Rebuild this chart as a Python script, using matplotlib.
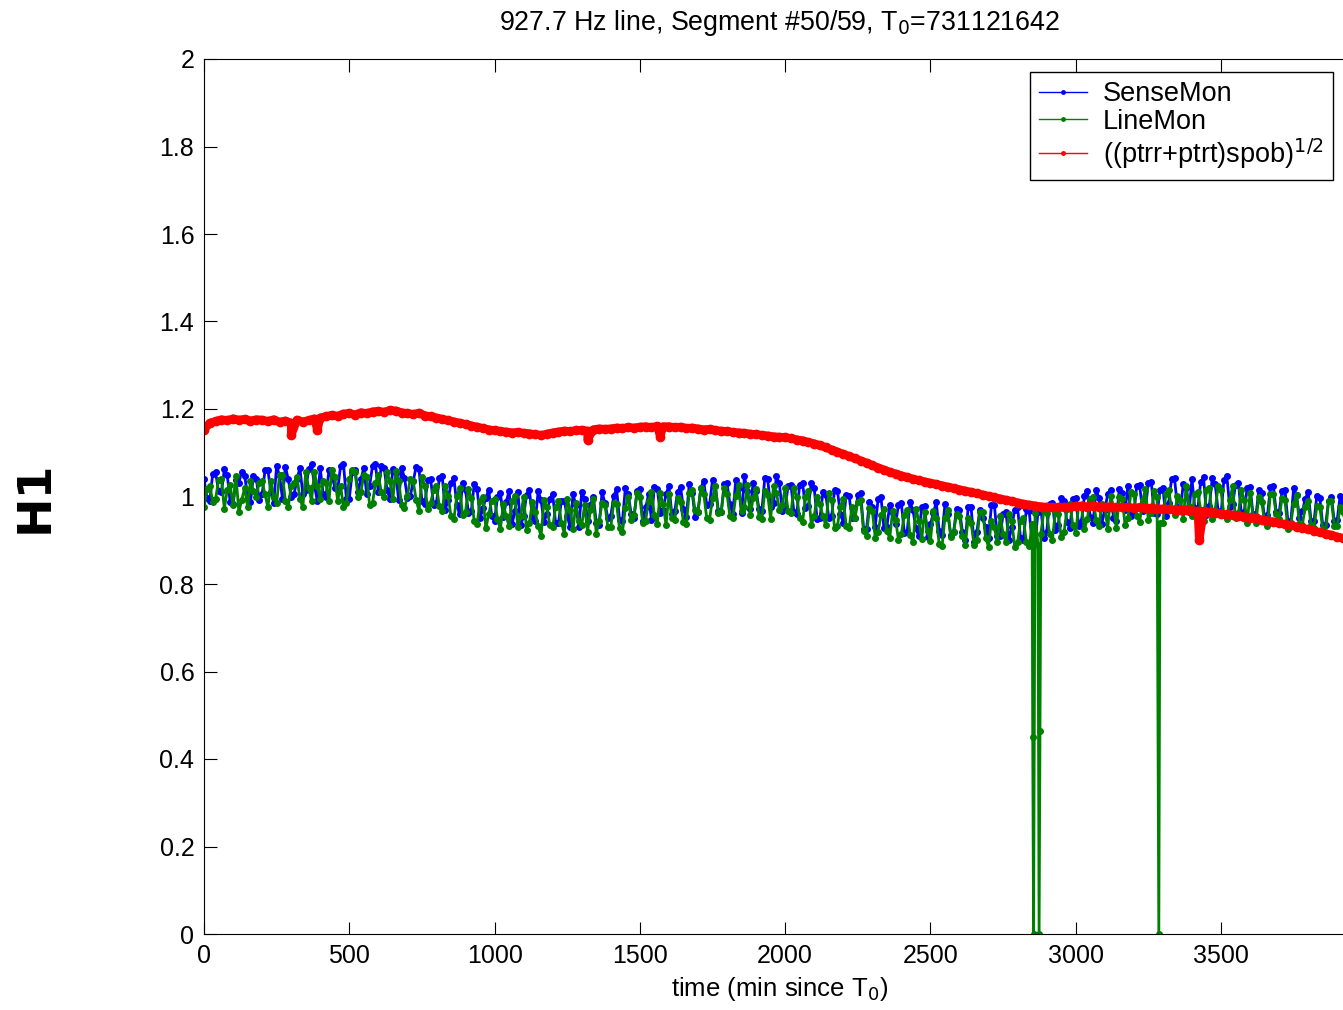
import numpy as np
import matplotlib
matplotlib.use('Agg')
import matplotlib.pyplot as plt
from matplotlib.ticker import FuncFormatter

plt.rcParams['font.family'] = ['Liberation Sans', 'DejaVu Sans']

step = 20   # min between samples (second set sits halfway)

# SenseMon (blue), at t = 0, 20, 40, ...
sense = [1.04, 0.99, 1.055, 1.01, 1.05, 0.982, 1.032, 1.047, 0.988, 1.04,
         1.005, 1.06, 0.986, 1.047, 1.068, 0.999, 1.04, 1.006, 1.062, 1.025,
         1.065, 1.0, 1.05, 1.015, 1.075, 0.995, 1.06, 1.04, 1.005, 1.07,
         1.01, 1.065, 0.995, 1.053, 1.065, 0.997, 1.035, 1.062, 0.984, 1.04,
         0.985, 1.046, 0.992, 1.043, 0.959, 1.015, 0.966, 1.017, 0.973, 1.015,
         0.945, 1.009, 0.988, 0.937, 1.011, 0.955, 1.014, 0.943, 0.992, 0.961,
         1.005, 0.94, 0.99, 0.93, 0.98, 1.01, 0.945, 1.0, 0.935, 0.985,
         0.955, 1.017, 0.943, 1.005, 0.952, 1.018, 0.975, 0.946, 1.018, 0.969,
         1.025, 0.966, 1.022, 0.953, 1.009, 0.965, 1.036, 0.982, 1.023, 0.964,
         1.03, 0.96, 1.02, 1.046, 0.971, 1.012, 0.968, 1.039, 0.985, 1.03,
         0.975, 1.027, 0.959, 1.031, 0.978, 1.02, 0.952, 1.004, 0.956, 1.013,
         0.94, 1.002, 0.95, 1.007, 0.925, 0.977, 0.995, 0.927, 0.98, 0.937,
         0.985, 0.92, 0.969, 0.909, 0.978, 0.937, 0.987, 0.911, 0.96, 0.92,
         0.97, 0.9, 0.975, 0.92, 0.95, 0.905, 0.98, 0.91, 0.965, 0.93,
         0.975, 0.9, 0.966, 0.893, 0.975, 0.918, 0.986, 0.935, 0.989, 0.928,
         0.997, 0.945, 1.013, 0.94, 0.997, 0.969, 1.016, 0.943, 1.009, 1.025,
         0.96, 1.026, 0.972, 1.033, 0.959, 1.02, 0.986, 1.042, 0.968, 1.019,
         1.04, 0.97, 1.044, 0.979, 1.028, 0.958, 1.047, 0.982, 1.031, 0.965,
         1.022, 0.955, 1.008, 0.957, 1.025, 0.963, 1.016, 0.94, 1.003, 0.966,
         1.01, 0.943, 0.997, 0.935, 0.999, 0.947, 0.985]
# SenseMon, at t = 10, 30, 50, ...
sense_mid = [0.997, 1.052, 1.012, 1.062, 0.987, 1.037, 1.057, 1.002, 1.047, 0.992,
             1.06, 1.01, 1.07, 0.995, 1.04, 1.005, 1.065, 1.015, 1.075, 0.99,
             1.005, 1.06, 1.02, 1.07, 0.995, 1.055, 1.01, 1.065, 1.025, 1.075,
             1.07, 1.015, 1.064, 0.991, 1.043, 1.001, 1.068, 0.99, 1.037, 0.98,
             1.043, 0.969, 1.03, 0.981, 1.032, 0.963, 1.029, 0.95, 0.997, 0.955,
             0.999, 0.953, 1.012, 0.966, 0.935, 1.004, 0.953, 1.012, 0.941, 0.995,
             0.94, 0.99, 0.955, 1.005, 0.93, 0.995, 0.98, 0.94, 1.01, 0.95,
             1.001, 0.947, 1.019, 0.961, 1.012, 0.944, 1.005, 1.022, 0.963, 1.005,
             0.96, 1.011, 0.972, 1.028, 0.954, 1.02, 0.981, 1.037, 0.968, 1.029,
             0.982, 1.037, 0.962, 1.012, 1.032, 0.972, 1.042, 0.977, 1.047, 0.967,
             1.023, 0.965, 1.027, 0.974, 1.031, 0.948, 1.01, 0.952, 1.014, 0.961,
             1.003, 0.951, 1.003, 0.926, 0.988, 0.931, 0.998, 0.931, 0.963, 0.981,
             0.917, 0.987, 0.927, 0.977, 0.907, 0.962, 0.922, 0.982, 0.912, 0.972,
             0.92, 0.975, 0.895, 0.97, 0.93, 0.98, 0.91, 0.96, 0.9, 0.97,
             0.905, 0.971, 0.892, 0.964, 0.906, 0.984, 0.923, 0.997, 0.941, 0.995,
             0.933, 1.001, 0.954, 1.016, 0.938, 1.005, 0.952, 1.018, 0.969, 0.955,
             1.025, 0.966, 1.032, 0.963, 1.014, 0.955, 1.041, 0.977, 1.028, 0.964,
             0.973, 1.033, 0.958, 1.043, 0.968, 1.038, 0.977, 1.027, 0.961, 1.02,
             0.961, 1.014, 0.947, 1.021, 0.964, 1.012, 0.945, 1.019, 0.952, 0.995,
             0.944, 1.002, 0.936, 0.989, 0.943, 1.001, 0.945]

# LineMon (green), at t = 0, 20, 40, ...
linemon = [0.975, 1.025, 0.995, 1.04, 1.015, 0.98, 0.965, 1.02, 1.035, 1.0,
           1.035, 0.975, 1.0, 1.05, 0.99, 1.025, 1.045, 0.975, 1.02, 1.055,
           0.995, 1.03, 1.06, 0.99, 0.975, 1.04, 1.055, 1.01, 1.045, 0.985,
           1.05, 1.0, 1.035, 1.058, 0.98, 1.002, 1.035, 0.967, 1.024, 0.985,
           1.025, 0.966, 1.002, 0.948, 1.019, 0.965, 0.996, 0.937, 0.998, 0.96,
           0.995, 0.925, 0.955, 0.99, 0.93, 1.0, 0.94, 0.965, 0.91, 0.975,
           0.93, 0.99, 0.915, 0.97, 0.985, 0.935, 0.92, 0.995, 0.945, 0.98,
           0.93, 0.982, 0.918, 1.0, 0.957, 0.998, 0.945, 1.011, 0.938, 0.984,
           1.005, 0.946, 0.987, 0.938, 1.014, 0.965, 1.006, 0.947, 1.023, 0.964,
           1.005, 0.95, 1.026, 0.976, 0.957, 1.017, 0.948, 1.004, 1.024, 0.97,
           1.02, 0.962, 0.999, 0.941, 1.013, 0.955, 0.982, 0.934, 0.991, 0.933,
           0.995, 0.927, 0.95, 0.992, 0.91, 0.967, 0.92, 0.972, 0.905, 0.947,
           0.915, 0.97, 0.895, 0.945, 0.965, 0.898, 0.952, 0.886, 0.97, 0.92,
           0.955, 0.89, 0.94, 0.9, 0.965, 0.885, 0.93, 0.955, 0.895, 0.945,
           0.895, 0.95, 0.886, 0.963, 0.915, 0.963, 0.901, 0.96, 0.919, 0.983,
           0.917, 0.975, 0.948, 1.0, 0.932, 0.979, 1.001, 0.928, 0.994, 0.95,
           1.005, 0.941, 1.017, 0.963, 0.999, 0.94, 1.016, 0.957, 0.993, 1.024,
           0.955, 1.01, 0.945, 1.02, 0.97, 1.014, 0.949, 1.023, 0.962, 0.991,
           1.007, 0.94, 0.988, 0.932, 1.005, 0.948, 0.991, 0.935, 1.003, 0.936,
           0.99, 0.928, 0.977, 0.915, 0.989, 0.932, 0.965]
# LineMon, at t = 10, 30, 50, ...
linemon_mid = [1.017, 0.987, 1.037, 0.972, 1.027, 1.047, 0.992, 0.977, 1.012, 1.032,
               1.005, 1.035, 0.985, 1.05, 0.975, 1.03, 0.995, 1.055, 0.99, 1.025,
               1.035, 0.99, 1.045, 1.025, 0.985, 1.06, 1.0, 1.05, 0.98, 1.03,
               1.01, 1.055, 0.994, 1.036, 0.973, 1.041, 0.993, 1.045, 0.972, 1.015,
               0.978, 1.024, 0.955, 1.001, 0.957, 1.018, 0.944, 0.99, 0.927, 0.99,
               0.949, 0.983, 0.932, 1.001, 0.955, 0.924, 0.988, 0.932, 0.991, 0.935,
               0.975, 0.94, 0.995, 0.925, 0.945, 0.98, 0.97, 0.915, 0.985, 0.93,
               0.986, 0.927, 0.974, 0.946, 1.007, 0.939, 0.99, 0.957, 1.008, 0.935,
               0.95, 0.996, 0.942, 1.008, 0.969, 1.02, 0.951, 0.997, 0.963, 1.019,
               0.955, 1.001, 0.966, 1.027, 0.997, 0.953, 1.013, 0.949, 1.009, 0.98,
               0.968, 1.02, 0.952, 0.999, 0.936, 0.998, 0.955, 1.007, 0.929, 0.976,
               0.933, 0.976, 0.988, 0.921, 0.973, 0.906, 0.958, 0.921, 0.968, 0.901,
               0.957, 0.912, 0.972, 0.902, 0.922, 0.967, 0.892, 0.952, 0.907, 0.96,
               0.91, 0.95, 0.89, 0.965, 0.905, 0.945, 0.895, 0.915, 0.96, 0.885,
               0.945, 0.896, 0.937, 0.889, 0.966, 0.914, 0.968, 0.907, 0.971, 0.935,
               0.978, 0.926, 0.994, 0.946, 0.983, 0.925, 0.977, 0.998, 0.934, 1.01,
               0.955, 0.991, 0.947, 1.013, 0.939, 1.005, 0.971, 1.002, 0.948, 0.979,
               1.005, 0.97, 1.014, 0.949, 1.023, 0.958, 0.992, 0.951, 1.016, 0.94,
               0.956, 0.999, 0.942, 1.006, 0.959, 0.997, 0.926, 0.984, 0.937, 0.975,
               0.934, 0.978, 0.926, 0.99, 0.933, 0.976, 0.935]
# LineMon dropouts (time, value)
drop_t = [2852, 2855, 2874, 2877, 3286]
drop_v = [0.45, 0.0, 0.0, 0.465, 0.0]

# ((ptrr+ptrt)spob)^1/2 (red), at t = 0, 20, 40, ...
ptr = [1.153, 1.168, 1.172, 1.176, 1.174, 1.178, 1.175, 1.177, 1.173, 1.176,
       1.175, 1.172, 1.176, 1.17, 1.173, 1.168, 1.175, 1.171, 1.174, 1.178,
       1.18, 1.183, 1.186, 1.184, 1.189, 1.19, 1.187, 1.192, 1.19, 1.194,
       1.195, 1.193, 1.197, 1.196, 1.192, 1.19, 1.188, 1.191, 1.185, 1.183,
       1.18, 1.177, 1.174, 1.171, 1.168, 1.165, 1.162, 1.159, 1.156, 1.153,
       1.151, 1.149, 1.148, 1.146, 1.147, 1.145, 1.144, 1.142, 1.14, 1.143,
       1.146, 1.148, 1.15, 1.149, 1.151, 1.152, 1.15, 1.153, 1.155, 1.154,
       1.155, 1.157, 1.156, 1.158, 1.157, 1.159, 1.16, 1.158, 1.161, 1.16,
       1.16, 1.158, 1.159, 1.156, 1.157, 1.155, 1.153, 1.154, 1.151, 1.15,
       1.149, 1.147, 1.146, 1.145, 1.143, 1.142, 1.14, 1.139, 1.137, 1.136,
       1.135, 1.133, 1.13, 1.128, 1.124, 1.121, 1.117, 1.112, 1.107, 1.102,
       1.097, 1.092, 1.087, 1.082, 1.077, 1.071, 1.066, 1.061, 1.056, 1.052,
       1.048, 1.044, 1.04, 1.037, 1.034, 1.031, 1.028, 1.025, 1.022, 1.019,
       1.016, 1.013, 1.01, 1.007, 1.004, 1.001, 0.998, 0.995, 0.992, 0.989,
       0.986, 0.983, 0.981, 0.979, 0.977, 0.976, 0.975, 0.975, 0.976, 0.975,
       0.978, 0.979, 0.977, 0.978, 0.977, 0.976, 0.977, 0.975, 0.976, 0.975,
       0.974, 0.975, 0.973, 0.974, 0.972, 0.972, 0.971, 0.97, 0.97, 0.969,
       0.968, 0.967, 0.966, 0.964, 0.963, 0.961, 0.959, 0.958, 0.956, 0.954,
       0.952, 0.95, 0.947, 0.945, 0.942, 0.939, 0.937, 0.934, 0.931, 0.928,
       0.925, 0.922, 0.918, 0.915, 0.912, 0.908, 0.905]
# red outliers (time, value)
ptr_out_t = [300, 390, 1320, 1570, 3425]
ptr_out_v = [1.14, 1.152, 1.13, 1.137, 0.90]


def merge(*pairs):
    tt = np.concatenate([np.asarray(p[0], float) for p in pairs])
    vv = np.concatenate([np.asarray(p[1], float) for p in pairs])
    i = np.argsort(tt, kind='stable')
    return tt[i], vv[i]


t = np.arange(len(sense)) * step
t_mid = t + step // 2
t_b, v_b = merge((t, sense), (t_mid, sense_mid))
t_g, v_g = merge((t, linemon), (t_mid, linemon_mid), (drop_t, drop_v))
t_r, v_r = merge((t, ptr), (ptr_out_t, ptr_out_v))

xmax = 3960
px_per_min = 1017 / 3500.0
fig = plt.figure(figsize=(13.43, 10.10), dpi=100)
ax = fig.add_axes([204/1343, 1 - 934/1010, xmax*px_per_min/1343, 875/1010])

ax.plot(t_b, v_b, color='#0000ff', lw=2.0, marker='.', ms=8, label='SenseMon')
ax.plot(t_g, v_g, color='#008000', lw=2.0, marker='.', ms=8, label='LineMon')
ax.plot(t_r, v_r, color='#ff0000', lw=6, marker='.', ms=12,
        label='((ptrr+ptrt)spob)$^{1/2}$')

ax.set_xlim(0, xmax)
ax.set_ylim(0, 2)
ax.set_xticks(np.arange(0, xmax, 500))
ax.set_yticks(np.arange(0, 2.01, 0.2))
ax.yaxis.set_major_formatter(FuncFormatter(lambda y, p: '%g' % round(y, 2)))
ax.tick_params(direction='in', length=9, width=0.8, labelsize=18,
               top=True, right=True, pad=7)

ax.set_title('927.7 Hz line, Segment #50/59, T$_0$=731121642', fontsize=19.3, pad=21)
ax.set_xlabel('time (min since T$_0$)', fontsize=18.5, labelpad=5)
ax.set_ylabel('H1', fontsize=34, fontweight='bold', family='DejaVu Sans', labelpad=73)

leg = fig.legend(loc='upper left', bbox_to_anchor=(1030/1343, 1 - 72/1010),
                 borderaxespad=0, fontsize=19.5, fancybox=False, edgecolor='black',
                 framealpha=1, handlelength=1.75, borderpad=0.35, labelspacing=0.05,
                 handletextpad=0.6)
leg.get_frame().set_linewidth(1.0)
for h in leg.legend_handles:
    h.set_linewidth(1.0)
    h.set_markersize(5)

fig.savefig('out.png', dpi=100)
